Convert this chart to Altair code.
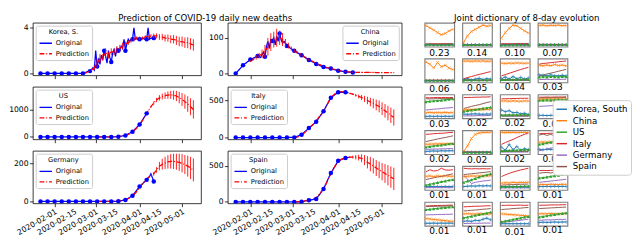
import altair as alt
import pandas as pd

FONT = "DejaVu Sans"
BLUE, RED = "#0000ff", "#ff0000"

tick_days = [10, 24, 39, 53, 70, 84, 100]
tick_labels = ["2020-02-01", "2020-02-15", "2020-03-01", "2020-03-15",
               "2020-04-01", "2020-04-15", "2020-05-01"]

# ---------------- left: daily new deaths (day 0 = 2020-01-22) ----------------
korea_days = [0, 5, 10, 15, 20, 25, 30, 32, 34,
              35, 36, 37, 38, 39, 40, 41, 42, 43, 44,
              45, 46, 47, 48, 49, 50, 51, 52, 53, 54,
              55, 56, 57, 58, 59, 60, 61, 62, 63, 64,
              65, 66, 67, 68, 69, 70, 72, 74, 75, 76, 77, 78, 80]
korea_vals = [0, 0, 0, 0, 0, 0, 0, 0.1, 0.2,
              0.2, 0.3, 0.5, 0.3, 2.0, 0.6, 1.2, 0.8, 1.6, 1.2,
              2.0, 1.5, 0.9, 2.0, 1.4, 1.0, 1.8, 2.1, 1.5, 2.2,
              2.0, 2.0, 2.4, 2.2, 3.0, 2.0, 2.6, 3.0, 2.8, 3.0,
              3.0, 4.0, 3.0, 3.1, 3.0, 3.0, 3.1, 3.0, 3.0, 4.0, 3.0, 3.1, 3.1]
korea_pred_start = 30
korea_pred = [0.0, 0.05, 0.15, 0.3, 0.5, 0.9, 1.3, 1.4, 1.8, 1.6,
              1.9, 1.9, 2.1, 2.2, 2.4, 2.6, 2.7, 2.9, 3.0, 3.1,
              3.1, 3.1, 3.2, 3.2, 3.3, 3.3, 3.3, 3.2, 3.2, 3.1,
              3.1, 3.0, 3.0, 2.9, 2.8, 2.8, 2.7, 2.7, 2.6, 2.5]
korea_err = [0.02, 0.03, 0.05, 0.1, 0.2, 0.4, 0.4, 0.3, 0.4, 0.3,
             0.3, 0.3, 0.3, 0.3, 0.3, 0.2, 0.2, 0.2, 0.2, 0.15,
             0.15, 0.15, 0.15, 0.15, 0.15, 0.2, 0.22, 0.25, 0.28, 0.3,
             0.32, 0.35, 0.37, 0.4, 0.42, 0.44, 0.46, 0.48, 0.5, 0.5]

china_days = [0, 5, 10, 15, 17, 19, 20, 21, 22, 23, 24, 25, 26, 27, 28, 29, 30,
              31, 32, 33, 35, 40, 45, 50, 55, 60, 65, 70, 75, 80]
china_vals = [0, 23, 39, 49, 45, 60, 47, 75, 90, 70, 95, 91, 100, 80, 105, 90, 112,
              95, 85, 90, 77, 64, 51, 38, 27, 18, 14, 8, 5, 3]
china_pred_start = 10
china_pred = [35, 40, 45, 50, 55, 62, 75, 88, 95, 100,
              100, 95, 85, 78, 70, 64, 59, 54, 49, 44,
              39, 35, 31, 27, 24, 20, 17, 15, 13, 11,
              9, 7, 6, 5, 4, 3.5, 3.5, 3.3, 3.2, 3.1,
              3, 3, 3, 2.9, 2.9, 2.8, 2.8, 2.7, 2.7, 2.6]
china_err = [3, 4, 6, 8, 12, 18, 25, 25, 22, 25,
             20, 18, 12, 8, 6, 5, 4, 4, 3, 3,
             3, 2, 2, 2, 2, 2, 2, 2, 2, 2,
             2, 2, 1.5, 1.5, 1.5, 1.5, 1.5, 1.5, 1.5, 1.5,
             1.5, 1.5, 1.5, 1.5, 1.5, 1.5, 1.5, 1.5, 1.5, 1.5]

us_days = [0, 5, 10, 15, 20, 25, 30, 35, 40, 45, 50, 55, 60, 65, 70, 75]
us_vals = [0, 0, 0, 0, 0, 0, 0, 0, 0, 0, 1, 10, 57, 195, 460, 874]
us_pred_start = 40
us_pred = [0, 0, 1, 2, 3, 5, 8, 12, 20, 35,
           60, 95, 150, 230, 330, 450, 600, 780, 960, 1120,
           1260, 1370, 1450, 1500, 1530, 1550, 1560, 1550, 1520, 1460,
           1390, 1310, 1220, 1120, 1020]
us_err = [0, 0, 0, 0, 0, 0, 0, 0, 0, 0,
          0, 0, 0, 0, 0, 0, 0, 0, 20, 40,
          60, 80, 100, 110, 120, 135, 150, 170, 190, 215,
          240, 265, 290, 315, 340]

italy_days = [0, 5, 10, 15, 20, 25, 30, 35, 40, 45, 50, 55, 60, 65, 70, 75, 77]
italy_vals = [0, 0, 0, 0, 0, 0, 0, 0, 1, 38, 127, 212, 356, 538, 610, 610, 605]
italy_pred_start = 40
italy_pred = [0, 5, 20, 45, 85, 130, 160, 200, 250, 310,
              360, 430, 500, 560, 595, 615, 620, 615, 605, 595,
              585, 570, 555, 540, 520, 500, 480, 460, 440, 420,
              390, 360, 330, 300, 270]
italy_err = [0, 0, 0, 0, 0, 0, 0, 0, 0, 0,
             0, 0, 0, 0, 0, 0, 0, 0, 0, 0,
             10, 18, 26, 34, 42, 50, 58, 65, 72, 80,
             86, 92, 98, 104, 110]

germany_days = [0, 5, 10, 15, 20, 25, 30, 35, 40, 45, 50, 55, 60, 65, 70, 75, 77, 78, 79, 80]
germany_vals = [0, 0, 0, 0, 0, 0, 0, 0, 0, 0, 0, 1, 8, 30, 78, 113, 130, 145, 125, 105]
germany_pred_start = 40
germany_pred = [0, 0, 0, 0, 1, 1, 2, 3, 5, 7,
                10, 15, 24, 35, 52, 72, 92, 110, 125, 135,
                145, 165, 185, 195, 202, 207, 210, 210, 208, 205,
                200, 193, 185, 175, 165]
germany_err = [0, 0, 0, 0, 0, 0, 0, 0, 0, 0,
               0, 0, 0, 0, 0, 0, 0, 0, 0, 0,
               10, 15, 22, 28, 32, 35, 38, 40, 42, 45,
               48, 50, 55, 58, 60]

spain_days = [0, 5, 10, 15, 20, 25, 30, 35, 40, 45, 50, 55, 60, 65, 70, 75, 78]
spain_vals = [0, 0, 0, 0, 0, 0, 0, 0, 0, 2, 25, 40, 180, 400, 570, 610, 620]
spain_pred_start = 40
spain_pred = [0, 2, 5, 10, 18, 28, 35, 45, 80, 130,
              185, 260, 350, 430, 500, 560, 590, 605, 615, 620,
              622, 620, 615, 605, 580, 550, 525, 500, 470, 445,
              420, 395, 370, 345, 320]
spain_err = [0, 0, 0, 0, 0, 0, 0, 0, 0, 0,
             0, 0, 0, 0, 0, 0, 0, 0, 0, 10,
             20, 30, 40, 55, 70, 85, 100, 105, 110, 115,
             120, 130, 140, 148, 155]

# ---------------- right: joint dictionary atoms ----------------
series_names = ["Korea, South", "China", "US", "Italy", "Germany", "Spain"]
series_colors = ["#1f77b4", "#ff7f0e", "#2ca02c", "#d62728", "#9467bd", "#8c564b"]
atom_weights = ["0.23", "0.14", "0.10", "0.07",
                "0.06", "0.05", "0.04", "0.03",
                "0.03", "0.02", "0.02", "0.02",
                "0.02", "0.02", "0.02", "0.02",
                "0.01", "0.01", "0.01", "0.01",
                "0.01", "0.01", "0.01", "0.01"]
# each atom: rows = Korea, China, US, Italy, Germany, Spain (8 days)
atoms = [
"""
.03 .03 .03 .03 .03 .03 .03 .03
.93 .82 .72 .60 .50 .56 .68 .75
.04 .05 .04 .05 .04 .05 .04 .05
.07 .07 .08 .07 .08 .08 .08 .08
.02 .02 .02 .02 .02 .02 .02 .02
.05 .05 .05 .05 .05 .05 .05 .05
""", """
.03 .03 .03 .03 .03 .03 .03 .03
.15 .45 .65 .75 .85 .95 .90 .93
.04 .04 .04 .04 .04 .04 .04 .04
.03 .03 .03 .03 .03 .03 .03 .03
.02 .02 .02 .02 .02 .02 .02 .02
.03 .03 .03 .03 .03 .03 .03 .03
""", """
.03 .03 .03 .03 .03 .03 .03 .03
.35 .60 .80 .95 .92 .80 .68 .58
.03 .03 .03 .03 .03 .03 .03 .03
.08 .08 .08 .08 .09 .09 .09 .09
.02 .02 .02 .02 .02 .02 .02 .02
.04 .04 .04 .04 .04 .04 .04 .04
""", """
.03 .03 .03 .03 .03 .03 .03 .03
.93 .95 .92 .94 .93 .95 .92 .93
.04 .04 .04 .04 .04 .04 .04 .04
.05 .05 .05 .05 .05 .05 .05 .05
.02 .02 .02 .02 .02 .02 .02 .02
.03 .03 .03 .03 .03 .03 .03 .03
""", """
.03 .03 .03 .03 .03 .03 .03 .03
.90 .80 .62 .88 .68 .75 .62 .55
.04 .04 .04 .04 .04 .04 .04 .04
.05 .05 .05 .05 .05 .05 .05 .05
.02 .02 .02 .02 .02 .02 .02 .02
.03 .03 .03 .03 .03 .03 .03 .03
""", """
.08 .12 .06 .10 .14 .08 .12 .10
.94 .95 .93 .95 .94 .95 .93 .94
.05 .06 .05 .06 .05 .06 .05 .06
.12 .17 .22 .27 .32 .36 .41 .45
.03 .03 .03 .03 .03 .03 .03 .03
.05 .05 .05 .05 .05 .05 .05 .05
""", """
.12 .20 .10 .22 .12 .18 .10 .15
.85 .83 .85 .84 .86 .85 .84 .85
.08 .08 .09 .08 .09 .08 .09 .08
.25 .31 .37 .43 .49 .55 .60 .65
.04 .04 .04 .04 .04 .04 .04 .04
.06 .06 .06 .06 .06 .06 .06 .06
""", """
.30 .28 .25 .30 .26 .25 .28 .25
.75 .72 .76 .73 .78 .74 .76 .72
.20 .21 .20 .22 .21 .20 .22 .21
.80 .83 .85 .87 .89 .91 .93 .95
.08 .08 .09 .08 .09 .08 .09 .09
.25 .29 .34 .38 .42 .47 .51 .56
""", """
.03 .04 .03 .04 .03 .04 .03 .04
.20 .22 .20 .21 .20 .22 .20 .21
.72 .74 .76 .77 .79 .81 .83 .85
.91 .90 .91 .92 .91 .92 .91 .92
.33 .35 .37 .38 .40 .42 .43 .45
.86 .85 .86 .86 .87 .86 .87 .87
""", """
.14 .13 .14 .15 .14 .13 .14 .14
.33 .35 .34 .36 .35 .34 .36 .35
.27 .30 .33 .35 .38 .41 .43 .46
.91 .92 .92 .93 .93 .94 .94 .95
.05 .06 .05 .06 .07 .06 .07 .07
.40 .45 .50 .54 .58 .63 .68 .72
""", """
.33 .25 .30 .20 .22 .15 .18 .12
.75 .76 .74 .76 .75 .74 .76 .75
.10 .10 .11 .10 .11 .10 .11 .10
.85 .86 .86 .87 .87 .88 .88 .88
.04 .04 .04 .04 .04 .04 .04 .04
.06 .06 .06 .06 .06 .06 .06 .06
""", """
.08 .08 .07 .08 .08 .07 .08 .08
.85 .84 .86 .84 .85 .86 .84 .85
.78 .79 .80 .79 .80 .81 .80 .81
.93 .93 .94 .93 .94 .94 .94 .95
.50 .51 .52 .53 .54 .55 .56 .57
.90 .90 .91 .90 .91 .91 .91 .92
""", """
.07 .08 .09 .08 .10 .09 .10 .10
.40 .41 .42 .42 .43 .42 .43 .42
.27 .30 .33 .35 .37 .40 .42 .44
.87 .88 .90 .91 .92 .93 .95 .96
.17 .17 .18 .18 .19 .19 .20 .20
.53 .57 .61 .65 .69 .72 .76 .80
""", """
.03 .03 .03 .03 .03 .03 .03 .03
.07 .33 .67 .87 .93 .96 .96 .97
.03 .03 .03 .03 .03 .03 .03 .03
.04 .04 .04 .04 .04 .04 .04 .04
.02 .02 .02 .02 .02 .02 .02 .02
.03 .03 .03 .03 .03 .03 .03 .03
""", """
.27 .12 .40 .15 .30 .12 .20 .15
.96 .95 .96 .96 .95 .96 .96 .95
.10 .11 .12 .12 .13 .14 .14 .15
.40 .48 .56 .63 .72 .80 .87 .93
.04 .04 .04 .04 .04 .04 .04 .04
.07 .07 .07 .07 .07 .07 .07 .07
""", """
.17 .15 .17 .16 .15 .17 .16 .15
.50 .51 .50 .52 .50 .51 .52 .50
.40 .43 .47 .50 .53 .57 .60 .63
.90 .91 .91 .92 .92 .93 .93 .94
.10 .14 .18 .22 .26 .30 .33 .37
.83 .88 .82 .87 .80 .85 .86 .84
""", """
.10 .11 .10 .11 .10 .11 .10 .11
.58 .60 .57 .60 .58 .60 .59 .58
.17 .21 .25 .29 .33 .36 .40 .43
.79 .89 .83 .85 .96 .88 .87 .89
.05 .05 .05 .05 .05 .05 .05 .05
.43 .47 .51 .55 .58 .62 .66 .70
""", """
.10 .12 .13 .12 .14 .13 .14 .13
.57 .58 .60 .59 .60 .61 .60 .61
.30 .36 .42 .48 .55 .60 .65 .70
.96 .94 .93 .94 .93 .94 .93 .94
.63 .45 .24 .30 .33 .36 .38 .40
.66 .68 .70 .72 .74 .76 .78 .80
""", """
.08 .08 .09 .08 .09 .08 .09 .08
.26 .28 .27 .30 .28 .30 .29 .31
.10 .10 .11 .10 .11 .11 .12 .12
.57 .65 .72 .78 .83 .88 .92 .96
.04 .04 .04 .04 .04 .04 .04 .04
.17 .18 .19 .19 .20 .21 .21 .22
""", """
.10 .10 .11 .10 .11 .10 .11 .10
.19 .20 .19 .21 .20 .19 .21 .20
.50 .52 .55 .58 .61 .63 .66 .69
.85 .86 .85 .86 .86 .87 .86 .87
.30 .32 .34 .36 .38 .40 .42 .44
.73 .75 .76 .74 .77 .78 .77 .78
""", """
.06 .06 .07 .06 .07 .06 .07 .06
.28 .26 .24 .22 .20 .18 .16 .15
.70 .72 .74 .76 .78 .80 .82 .83
.87 .88 .89 .89 .90 .90 .91 .91
.45 .46 .46 .47 .47 .48 .48 .49
.84 .85 .85 .86 .86 .87 .87 .88
""", """
.15 .17 .15 .20 .18 .25 .30 .22
.50 .51 .50 .49 .51 .50 .49 .50
.32 .35 .39 .43 .47 .50 .54 .58
.83 .84 .85 .86 .86 .87 .88 .88
.05 .05 .06 .06 .06 .07 .07 .07
.64 .65 .67 .68 .70 .72 .73 .75
""", """
.04 .04 .04 .04 .04 .04 .04 .04
.50 .49 .47 .46 .45 .43 .42 .40
.13 .17 .20 .24 .28 .31 .35 .38
.90 .90 .91 .90 .91 .91 .90 .91
.10 .12 .14 .16 .18 .20 .23 .25
.70 .72 .73 .75 .76 .77 .79 .80
""", """
.10 .11 .10 .11 .12 .11 .12 .12
.50 .51 .50 .52 .51 .50 .52 .51
.35 .38 .41 .44 .47 .50 .52 .55
.90 .91 .91 .92 .92 .92 .93 .93
.20 .21 .22 .22 .23 .24 .24 .25
.75 .76 .77 .78 .79 .80 .81 .82
""",
]

# ---------------- build left panels ----------------
PH = 55
tick_df = pd.DataFrame({"day": tick_days, "label": tick_labels})


def make_panel(name, o_days, o_vals, p_start, p_vals, p_err, ydom, yticks, orient, show_x, width):
    rows = []
    for d, v in zip(o_days, o_vals):
        rows.append({"day": d, "val": v, "lo": v, "hi": v, "series": "Original", "mk": d % 5 == 0})
    for i, (v, e) in enumerate(zip(p_vals, p_err)):
        rows.append({"day": p_start + 2 * i, "val": v, "lo": v - e, "hi": v + e,
                     "series": "Prediction", "mk": False})
    df = pd.DataFrame(rows)
    leg = alt.Legend(title=name, orient=orient, offset=3, titleAnchor="middle",
                     labelFontSize=7, titleFontSize=7, titleFontWeight="normal",
                     symbolType="stroke", symbolSize=170, symbolStrokeWidth=1.5,
                     strokeColor="#cccccc", fillColor="white", padding=3,
                     cornerRadius=2, rowPadding=0, titlePadding=1, labelOffset=3,
                     labelFont=FONT, titleFont=FONT, labelColor="black", titleColor="black")
    xs = alt.Scale(domain=[-5.4, 113.4], nice=False, zero=False)
    ys = alt.Scale(domain=ydom, nice=False, zero=False)
    xax = alt.Axis(values=tick_days, title=None, labels=False)
    yax = alt.Axis(values=yticks, title=None, labelFontSize=8, labelPadding=1.5, format="d")
    base = alt.Chart(df)
    cdom = ["Original", "Prediction"]
    line = base.mark_line(strokeWidth=1.3, clip=True).encode(
        x=alt.X("day:Q", scale=xs, axis=xax),
        y=alt.Y("val:Q", scale=ys, axis=yax),
        color=alt.Color("series:N", scale=alt.Scale(domain=cdom, range=[BLUE, RED]), legend=leg),
        strokeDash=alt.StrokeDash("series:N", scale=alt.Scale(domain=cdom, range=[[1, 0], [5, 2, 1, 2]]),
                                  legend=leg),
    )
    pts = base.transform_filter("datum.mk").mark_circle(size=22, color=BLUE, opacity=1, clip=True).encode(
        x=alt.X("day:Q", title=None), y=alt.Y("val:Q", title=None))
    bars = base.transform_filter("datum.series == 'Prediction'").mark_rule(
        color=RED, strokeWidth=0.9, clip=True).encode(
        x=alt.X("day:Q", title=None), y=alt.Y("lo:Q", title=None), y2="hi:Q")
    layers = [line, pts, bars]
    if show_x:
        txt = alt.Chart(tick_df).mark_text(
            angle=330, align="right", baseline="top", fontSize=8, font=FONT, color="black"
        ).encode(x=alt.X("day:Q", title=None), y=alt.value(PH + 5), text="label:N")
        layers.append(txt)
    return alt.layer(*layers).properties(
        width=width, height=PH,
        view=alt.ViewBackground(stroke="black", strokeWidth=0.8))


W1, W2 = 176, 182
panels = [
    make_panel("Korea, S.", korea_days, korea_vals, korea_pred_start, korea_pred, korea_err,
               [-0.17, 4.45], [0, 2, 4], "top-left", False, W1),
    make_panel("China", china_days, china_vals, china_pred_start, china_pred, china_err,
               [-5, 142], [0, 50, 100], "top-right", False, W2),
    make_panel("US", us_days, us_vals, us_pred_start, us_pred, us_err,
               [-90, 1860], [0, 1000], "top-left", False, W1),
    make_panel("Italy", italy_days, italy_vals, italy_pred_start, italy_pred, italy_err,
               [-25, 685], [0, 250, 500], "top-left", False, W2),
    make_panel("Germany", germany_days, germany_vals, germany_pred_start, germany_pred, germany_err,
               [-10, 265], [0, 100, 200], "top-left", True, W1),
    make_panel("Spain", spain_days, spain_vals, spain_pred_start, spain_pred, spain_err,
               [-20, 709], [0, 250, 500], "top-left", True, W2),
]

left = alt.concat(*panels, columns=2, spacing={"row": 12, "column": 28}, bounds="flush",
                  align="each").resolve_scale(
    color="independent", strokeDash="independent", x="independent", y="independent"
).properties(title=alt.TitleParams("Prediction of COVID-19 daily new deaths", fontSize=9,
                                   anchor="middle", offset=-1, font=FONT, fontWeight="normal"))

# ---------------- build right facet ----------------
arows = []
for a, block in enumerate(atoms):
    lines = block.strip().split("\n")
    for s, ln in enumerate(lines):
        for t, v in enumerate(ln.split()):
            arows.append({"atom": a, "t": t, "series": series_names[s], "val": float(v)})
adf = pd.DataFrame(arows)

axs = alt.Scale(domain=[-0.35, 7.35], nice=False, zero=False)
ays = alt.Scale(domain=[-0.06, 1.06], nice=False, zero=False)
rleg = alt.Legend(title=None, orient="none", legendX=134, legendY=81,
                  labelFontSize=9, symbolType="stroke", symbolSize=121, symbolStrokeWidth=1.5,
                  strokeColor="#cccccc", fillColor="white", padding=3, cornerRadius=3,
                  rowPadding=0, labelOffset=5, labelFont=FONT, labelColor="black")
alines = alt.Chart().mark_line(strokeWidth=1, clip=True).encode(
    x=alt.X("t:Q", scale=axs, axis=None),
    y=alt.Y("val:Q", scale=ays, axis=None),
    color=alt.Color("series:N", scale=alt.Scale(domain=series_names, range=series_colors),
                    legend=rleg),
    order=alt.Order("series:N"),
)
pk = alt.Chart().transform_filter("datum.series == 'Korea, South'").mark_point(
    shape="M-1,0L1,0M0,-1L0,1", filled=False, strokeWidth=0.8, size=14, color=series_colors[0]
).encode(x="t:Q", y="val:Q")
pc = alt.Chart().transform_filter("datum.series == 'China'").mark_point(
    shape="M-1,-1L1,1M-1,1L1,-1", filled=False, strokeWidth=0.8, size=10, color=series_colors[1]
).encode(x="t:Q", y="val:Q")
pu = alt.Chart().transform_filter("datum.series == 'US'").mark_point(
    shape="triangle-up", filled=True, size=12, color=series_colors[2], opacity=1
).encode(x="t:Q", y="val:Q")

w_expr = "[" + ",".join("'%s'" % w for w in atom_weights) + "][datum.value]"
right = alt.layer(alines, pk, pc, pu, data=adf).properties(
    width=31, height=25, view=alt.ViewBackground(stroke="#808080", strokeWidth=1.2)
).facet(
    facet=alt.Facet("atom:O", title=None,
                    header=alt.Header(labelOrient="bottom", labelFontSize=9.5, labelPadding=0,
                                      labelFont=FONT, labelColor="black", labelExpr=w_expr)),
    columns=4, spacing={"row": -1.5, "column": 2.5},
).properties(title=alt.TitleParams("Joint dictionary of 8-day evolution", fontSize=9,
                                   anchor="middle", offset=-1, font=FONT, fontWeight="normal"))

chart = alt.hconcat(left, right, spacing=20).resolve_scale(
    color="independent", strokeDash="independent", x="independent", y="independent"
).properties(padding={"left": 0, "top": 0, "right": 0, "bottom": 0}).configure(font=FONT).configure_axis(
    labelColor="black", tickColor="black", tickSize=3.5, tickWidth=0.8,
    domain=False, grid=False, labelFont=FONT
).configure_view(stroke=None)

chart.save("out.html", embed_options={"renderer": "svg", "actions": False})
